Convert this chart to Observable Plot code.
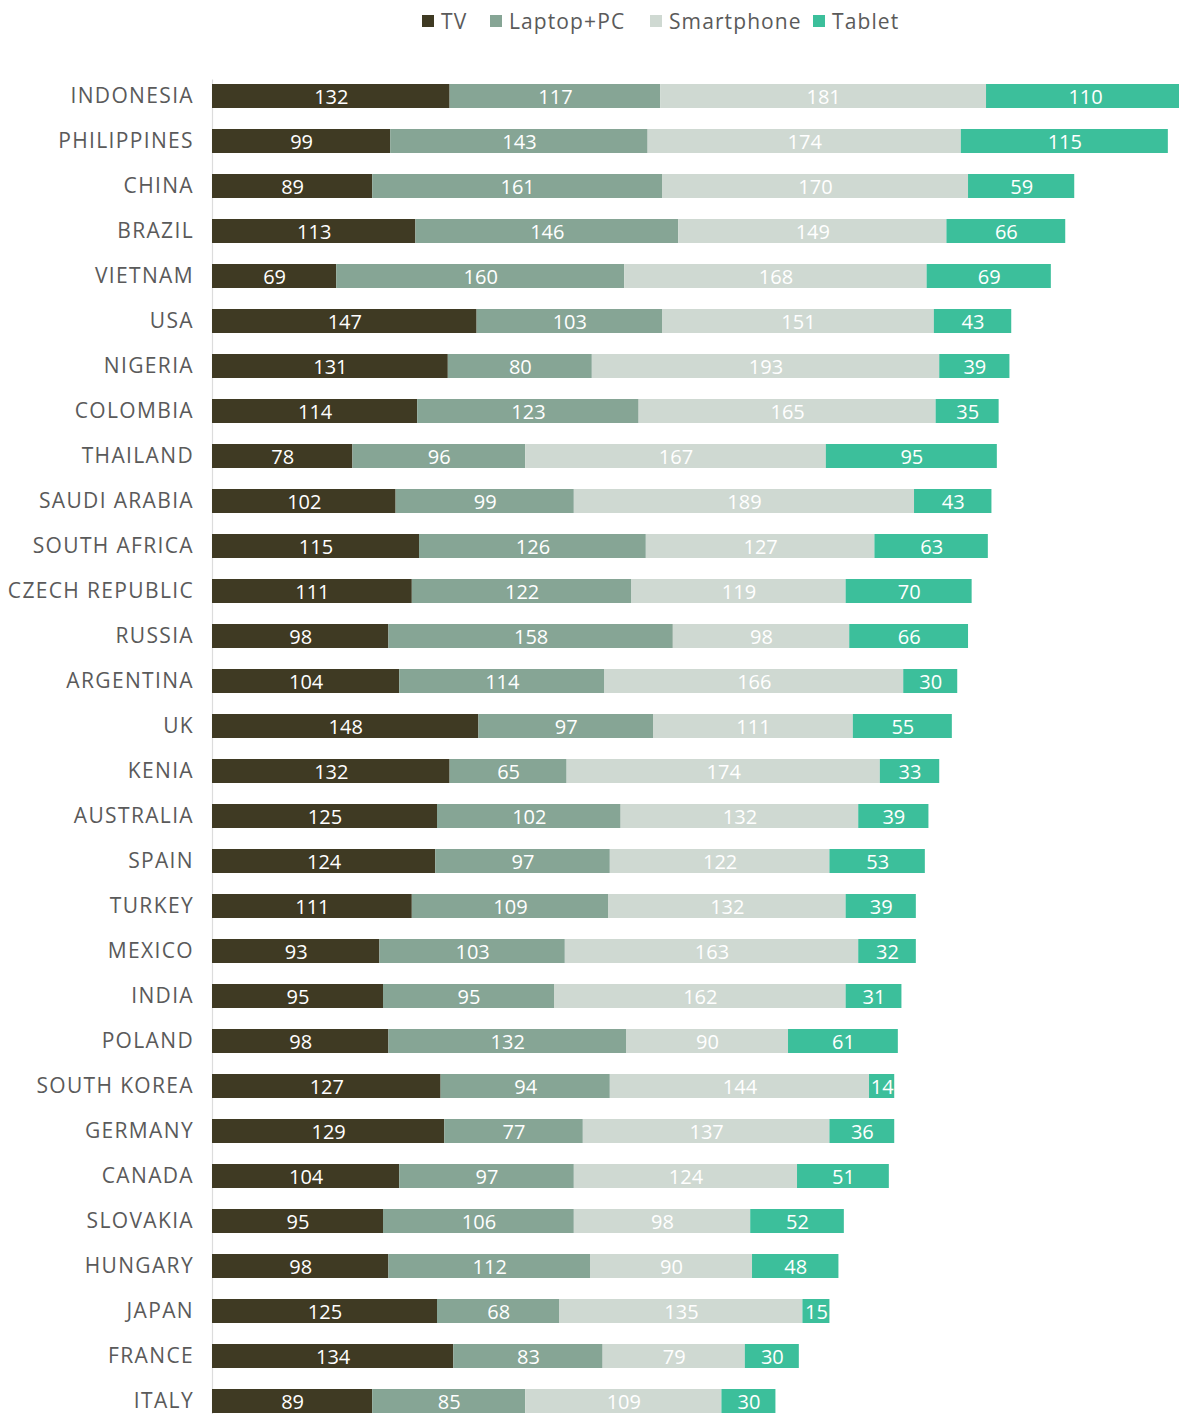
<!DOCTYPE html>
<html>
<head>
<meta charset="utf-8">
<script src="https://cdn.jsdelivr.net/npm/d3@7"></script>
<script src="https://cdn.jsdelivr.net/npm/@observablehq/plot@0.6"></script>
<style>
  html, body { margin: 0; padding: 0; background: #fff; overflow: hidden; }
  body { width: 1179px; height: 1414px; font-family: "Open Sans", sans-serif; }
  #legend { height: 62px; position: relative; }
  .item { position: absolute; top: 7px; display: flex; align-items: center; font-size: 21px; letter-spacing: 1.1px; color: #5a5a5a; }
  .sw { width: 12px; height: 12px; margin-right: 7px; }
  g[aria-label="y-axis tick label"] text { letter-spacing: 1.35px; }
</style>
</head>
<body>
<div id="legend"></div>
<div id="chart"></div>
<script>
const countries = ["INDONESIA","PHILIPPINES","CHINA","BRAZIL","VIETNAM","USA","NIGERIA","COLOMBIA","THAILAND","SAUDI ARABIA","SOUTH AFRICA","CZECH REPUBLIC","RUSSIA","ARGENTINA","UK","KENIA","AUSTRALIA","SPAIN","TURKEY","MEXICO","INDIA","POLAND","SOUTH KOREA","GERMANY","CANADA","SLOVAKIA","HUNGARY","JAPAN","FRANCE","ITALY"];
const tv =         [132,99,89,113,69,147,131,114,78,102,115,111,98,104,148,132,125,124,111,93,95,98,127,129,104,95,98,125,134,89];
const laptop =     [117,143,161,146,160,103,80,123,96,99,126,122,158,114,97,65,102,97,109,103,95,132,94,77,97,106,112,68,83,85];
const smartphone = [181,174,170,149,168,151,193,165,167,189,127,119,98,166,111,174,132,122,132,163,162,90,144,137,124,98,90,135,79,109];
const tablet =     [110,115,59,66,69,43,39,35,95,43,63,70,66,30,55,33,39,53,39,32,31,61,14,36,51,52,48,15,30,30];
const types = ["TV","Laptop+PC","Smartphone","Tablet"];
const colors = ["#3f3a23","#86a595","#cfd9d2","#3cbf9b"];

const series = [tv, laptop, smartphone, tablet];
const data = [];
countries.forEach((c, i) => {
  types.forEach((t, j) => data.push({country: c, type: t, value: series[j][i]}));
});

// legend
const legendPos = [422, 490, 650, 813];
const legend = document.getElementById("legend");
types.forEach((t, j) => {
  const d = document.createElement("div");
  d.className = "item";
  d.style.left = legendPos[j] + "px";
  d.innerHTML = `<span class="sw" style="background:${colors[j]}"></span><span>${t}</span>`;
  legend.appendChild(d);
});

const chart = Plot.plot({
  width: 1179,
  height: 1356,
  marginLeft: 212,
  marginRight: 0,
  marginTop: 17.6,
  marginBottom: 0,
  style: {fontFamily: "Open Sans, sans-serif", background: "#fff"},
  x: {domain: [0, 537.2], axis: null},
  y: {domain: countries, paddingInner: 0.46, paddingOuter: 0.1, label: null, tickSize: 0, tickPadding: 18.5},
  color: {domain: types, range: colors},
  marks: [
    Plot.ruleX([0], {stroke: "#dcdcdc", strokeWidth: 1.2}),
    Plot.barX(data, Plot.stackX({x: "value", y: "country", fill: "type", order: types})),
    Plot.text(data, Plot.stackX({x: "value", y: "country", z: "type", order: types, text: d => String(d.value), fill: "white", fontSize: 20, dy: 1})),
    Plot.axisY({tickSize: 0, tickPadding: 18.5, fontSize: 21, fill: "#5a5a5a", label: null})
  ]
});
document.getElementById("chart").appendChild(chart);
</script>
</body>
</html>
